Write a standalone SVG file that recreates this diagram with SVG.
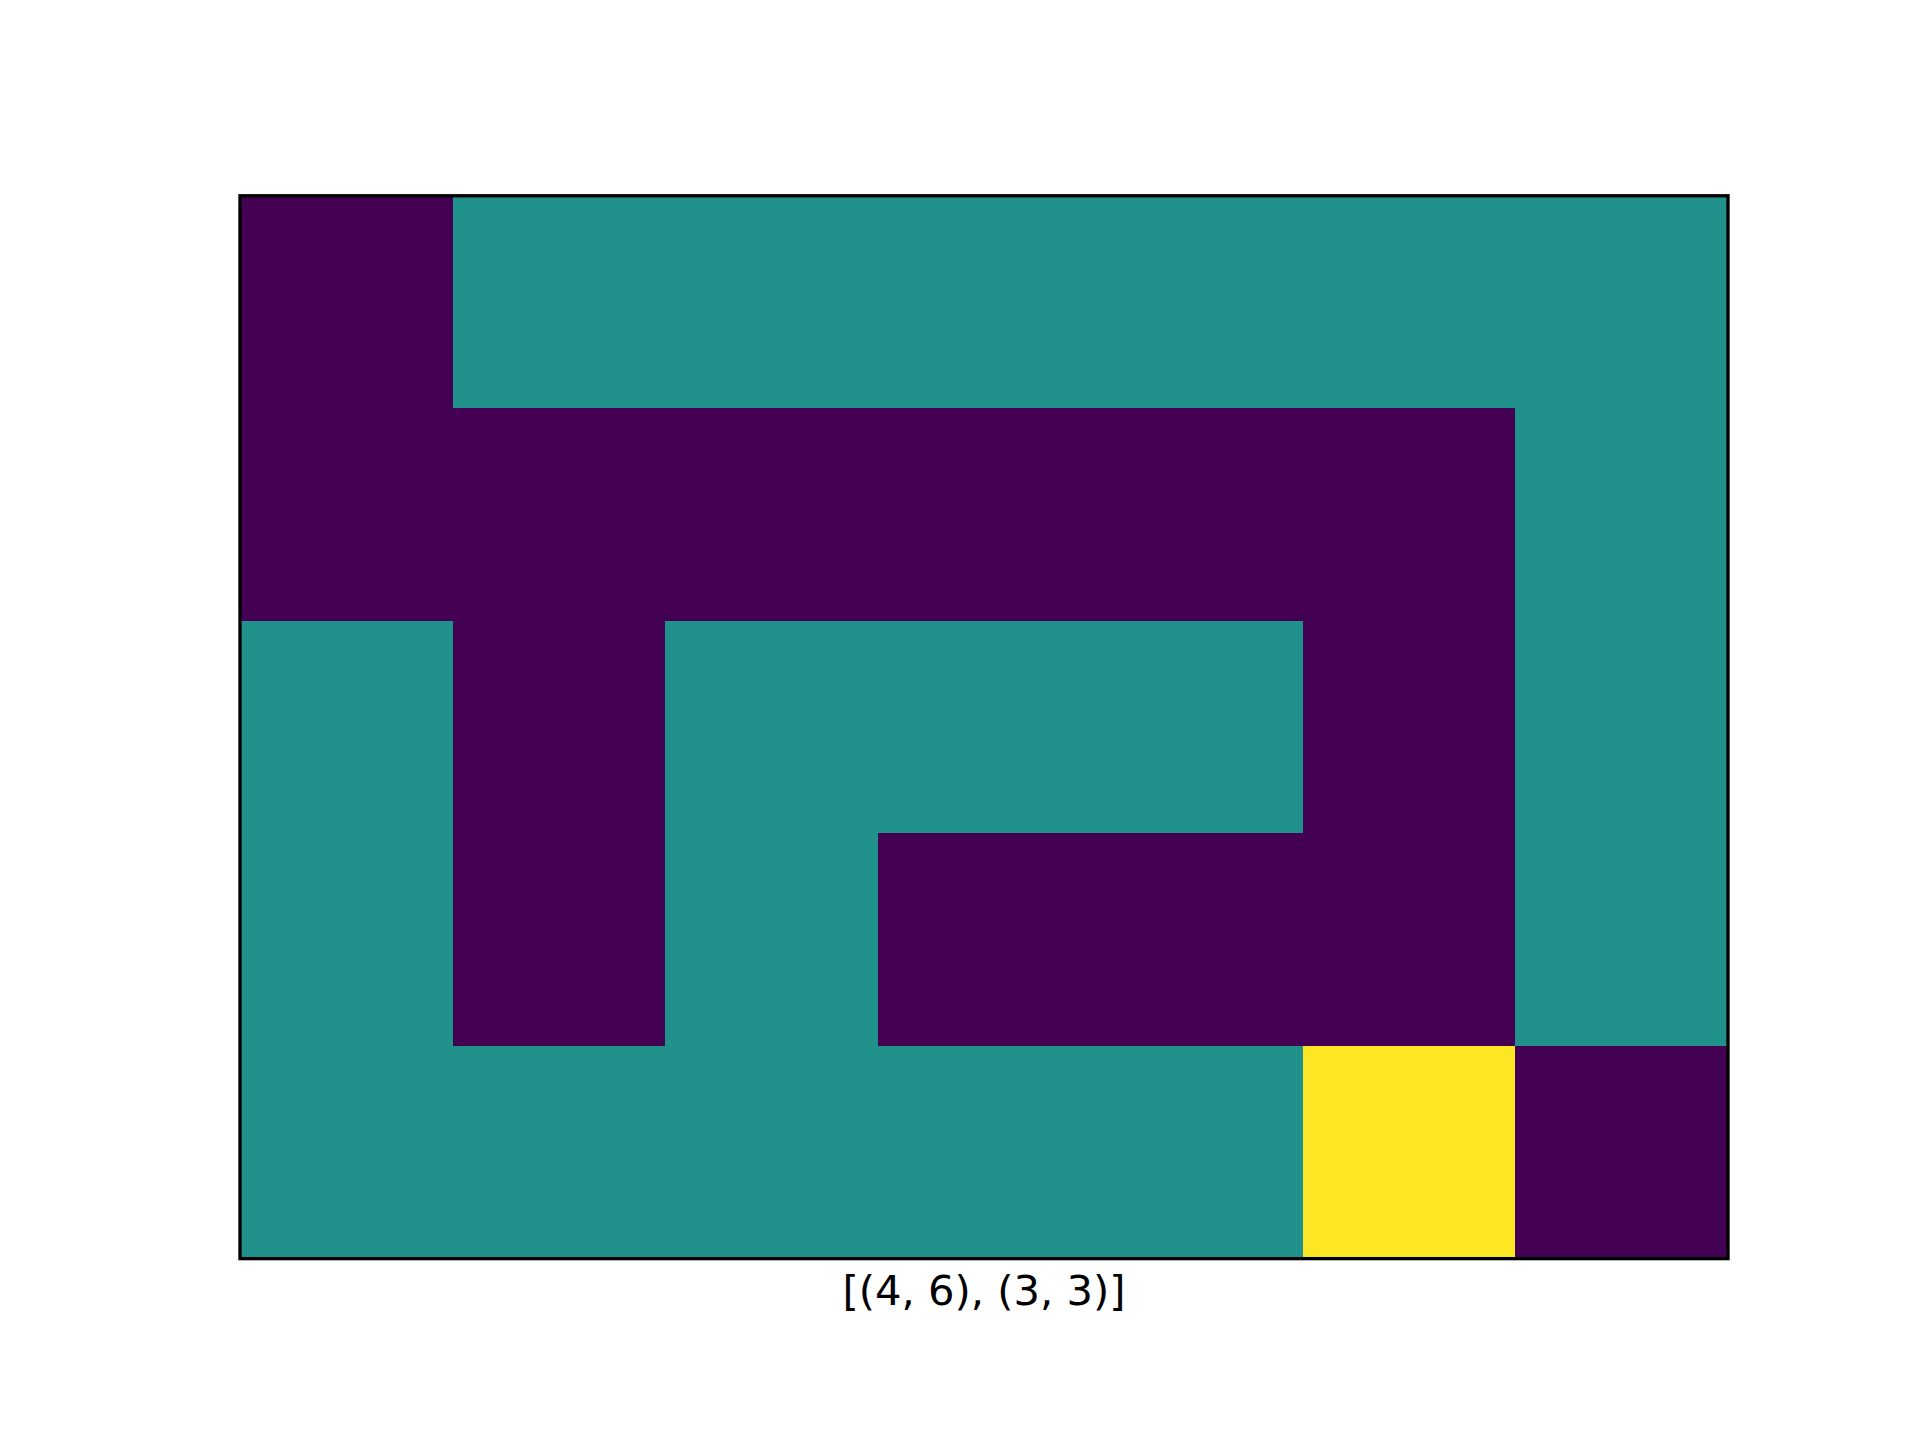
<svg xmlns="http://www.w3.org/2000/svg" width="1920" height="1440" viewBox="0 0 1920 1440">
<style>
.p{fill:#440154}.t{fill:#21918c}.y{fill:#fde725}
.lbl{font-family:"DejaVu Sans",sans-serif;font-size:41.67px;fill:#000}
</style>
<rect width="1920" height="1440" fill="#fff"/>
<g id="grid" shape-rendering="crispEdges">
<rect class="t" x="240" y="195.77" width="1488" height="1062.86"/>
<rect class="p" x="240" y="195.77" width="212.57" height="212.57"/>
<rect class="p" x="240" y="408.34" width="1275.43" height="212.57"/>
<rect class="p" x="452.57" y="620.91" width="212.57" height="425.15"/>
<rect class="p" x="1302.86" y="620.91" width="212.57" height="425.15"/>
<rect class="p" x="877.71" y="833.49" width="637.72" height="212.57"/>
<rect class="y" x="1302.86" y="1046.06" width="212.57" height="212.57"/>
<rect class="p" x="1515.43" y="1046.06" width="212.57" height="212.57"/>
</g>
<rect id="frame" x="240" y="195.77" width="1488" height="1062.86" fill="none" stroke="#000" stroke-width="3.33"/>
<text id="xlabel" class="lbl" x="984" y="1305" text-anchor="middle">[(4, 6), (3, 3)]</text>
</svg>
